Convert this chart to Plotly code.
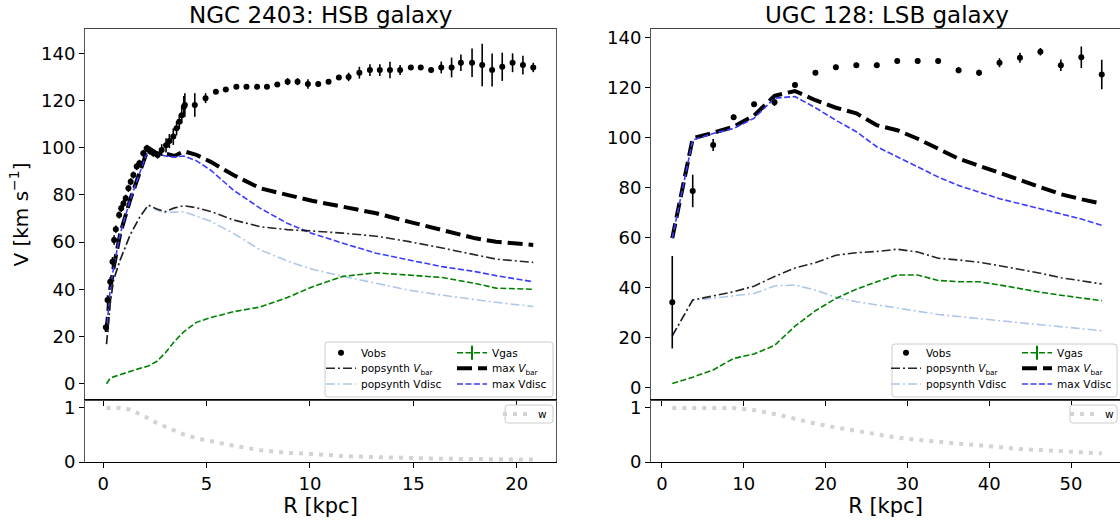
import plotly.graph_objects as go

# ---------------- NGC 2403 (HSB) ----------------
n_r_obs = [0.13, 0.21, 0.34, 0.45, 0.53, 0.61, 0.77, 0.87, 0.98, 1.09, 1.22, 1.33, 1.46, 1.62,
           1.75, 1.94, 2.10, 2.27, 2.43, 2.63, 2.83, 3.04, 3.20, 3.39, 3.55, 3.68, 3.80, 3.90,
           3.95, 4.43, 4.95, 5.45, 5.93, 6.44, 6.93, 7.44, 7.92, 8.42, 8.92, 9.40, 9.90, 10.40,
           10.90, 11.40, 11.87, 12.39, 12.90, 13.38, 13.87, 14.36, 14.88, 15.36, 15.86, 16.35,
           16.85, 17.30, 17.84, 18.33, 18.81, 19.30, 19.80, 20.30, 20.80]
n_v_obs = [23.9, 35.5, 43.2, 51.7, 60.9, 65.5, 71.5, 74.3, 76.4, 78.6, 82.8, 85.6, 88.4, 92.0,
           93.4, 97.6, 99.7, 98.5, 97.6, 96.9, 99.0, 101.0, 102.8, 104.7, 108.2, 111.0, 113.8, 117.4,
           118.1, 118.1, 121.0, 123.7, 124.7, 125.8, 125.8, 125.8, 125.8, 126.8, 128.0, 128.0, 127.0, 127.0,
           128.0, 129.8, 130.0, 131.8, 132.9, 132.9, 132.9, 132.9, 134.0, 134.0, 132.9, 134.0,
           134.0, 136.0, 136.0, 135.0, 132.9, 134.3, 136.0, 135.0, 134.0]
n_e_obs = [2.0, 2.0, 2.0, 2.0, 2.0, 1.5, 1.5, 1.5, 1.5, 1.5, 1.5, 1.5, 1.5, 1.5,
           1.5, 1.5, 1.5, 1.5, 1.5, 1.5, 2.5, 3.0, 3.0, 3.5, 3.0, 3.0, 3.5, 4.5,
           5.0, 5.0, 2.1, 0.8, 0.8, 0.8, 0.8, 0.8, 0.8, 1.0, 1.5, 1.5, 2.0, 1.2,
           1.0, 1.0, 1.8, 2.5, 2.5, 2.5, 3.5, 2.1, 1.0, 1.0, 1.0, 2.5,
           4.2, 3.5, 6.0, 9.0, 7.0, 6.0, 4.0, 4.0, 2.0]

n_r = [0.16, 0.34, 0.50, 0.82, 1.30, 1.78, 2.18, 2.60, 3.00, 3.45, 3.90, 4.50, 5.20, 6.30,
       7.60, 8.90, 10.10, 11.60, 13.20, 14.80, 16.40, 18.00, 19.00, 20.80]
n_vbar_pop = [16.8, 34.0, 43.9, 52.4, 63.0, 70.8, 75.7, 74.0, 72.9, 74.5, 75.4, 74.6, 73.0, 69.4,
              66.5, 65.3, 64.7, 63.8, 62.5, 60.2, 57.5, 54.6, 52.8, 51.4]
n_vdisc_pop = [16.8, 34.0, 43.9, 52.4, 63.0, 70.8, 75.5, 73.5, 72.5, 72.7, 72.9, 71.0, 68.8, 63.7,
               56.7, 52.0, 48.5, 45.5, 42.5, 39.6, 37.5, 35.6, 34.5, 32.7]
n_vgas = [0.0, 2.3, 2.9, 3.9, 5.2, 6.5, 7.5, 9.5, 13.0, 18.0, 22.0, 26.0, 28.0, 30.5,
          32.5, 36.5, 41.0, 45.5, 47.0, 46.0, 45.0, 42.5, 40.5, 40.0]
n_vbar_max = [22.0, 40.0, 49.0, 63.5, 77.8, 89.5, 100.0, 97.6, 97.5, 96.5, 98.5, 97.0, 94.0, 88.4,
              82.8, 80.0, 77.5, 75.0, 72.2, 68.6, 65.1, 61.6, 60.2, 58.8]
n_vdisc_max = [22.0, 40.0, 49.0, 63.5, 77.8, 89.5, 99.5, 97.5, 96.5, 96.0, 96.5, 94.5, 90.5, 82.0,
               74.3, 68.0, 63.7, 59.5, 55.3, 52.4, 49.6, 47.5, 45.8, 43.2]
n_w = [1.0, 1.0, 1.0, 1.0, 0.97, 0.89, 0.81, 0.72, 0.66, 0.58, 0.51, 0.44, 0.38, 0.30,
       0.22, 0.17, 0.15, 0.11, 0.09, 0.07, 0.06, 0.055, 0.05, 0.045]

# ---------------- UGC 128 (LSB) ----------------
u_r = [1.26, 3.76, 6.26, 8.76, 11.26, 13.76, 16.26, 18.76, 21.26, 23.76, 26.26, 28.76, 31.26,
       33.76, 36.26, 38.76, 41.26, 43.76, 46.26, 48.76, 51.26, 53.76]
u_v_obs = [34.2, 78.7, 97.1, 108.2, 113.4, 114.2, 121.1, 126.0, 128.2, 129.0, 129.0, 130.7, 130.7,
           130.7, 127.0, 126.0, 130.0, 132.0, 134.4, 129.0, 132.2, 125.3]
u_e_obs = [18.5, 6.5, 2.4, 1.0, 1.0, 1.5, 1.0, 1.0, 1.0, 1.0, 1.0, 1.0, 1.0,
           1.0, 1.2, 1.2, 1.8, 2.0, 1.5, 2.3, 4.3, 5.9]
u_vbar_pop = [20.7, 35.1, 36.7, 38.4, 40.6, 44.5, 47.9, 50.0, 53.0, 54.0, 54.5, 55.4, 54.3,
              51.8, 51.1, 50.2, 48.8, 47.4, 45.8, 44.0, 42.6, 41.5]
u_vdisc_pop = [20.7, 35.1, 35.8, 36.7, 37.7, 40.7, 41.1, 39.0, 36.2, 34.4, 33.2, 32.1, 30.6,
               29.3, 28.4, 27.6, 26.8, 26.0, 25.2, 24.3, 23.5, 22.8]
u_vgas = [1.7, 4.2, 7.1, 11.7, 13.5, 16.9, 24.6, 30.8, 35.7, 39.4, 42.4, 45.1, 45.1,
          42.9, 42.4, 42.4, 41.1, 39.6, 38.2, 37.0, 35.8, 34.8]
u_vbar_max = [59.8, 99.8, 102.0, 104.4, 108.9, 116.8, 118.7, 115.0, 112.0, 109.8, 105.0, 103.0, 99.6,
              95.5, 91.6, 88.8, 86.0, 83.4, 80.2, 77.4, 75.4, 73.6]
u_vdisc_max = [59.8, 99.1, 101.7, 103.7, 107.8, 115.8, 116.5, 112.0, 107.0, 102.4, 96.4, 92.4, 88.3,
               84.3, 80.9, 78.2, 75.6, 73.6, 71.6, 69.6, 67.5, 65.0]
u_w = [1.0, 1.0, 1.0, 1.0, 0.96, 0.89, 0.80, 0.71, 0.64, 0.58, 0.51, 0.45, 0.41,
       0.37, 0.34, 0.31, 0.27, 0.24, 0.22, 0.20, 0.18, 0.16]

titles = ["NGC 2403: HSB galaxy", "UGC 128: LSB galaxy"]

W, H = 1120, 522
FONT = "DejaVu Sans"
C_POPDISC = "#aec7e8"
C_MAXDISC = "#3b3bff"
C_GAS = "#008000"
C_W = "#d3d3d3"
DASHDOT = "9px,3px,2px,3px"
DASH = "6px,2.5px"
THICKDASH = "15px,6px"


def px(x):
    return x / W


def py(y):
    return 1 - y / H


fig = go.Figure()

# legend slots: (text x, row center y) in pixels; one single-entry legend each
ROWS = [352.7, 368.3, 384.0]
panels = [
    dict(r_obs=n_r_obs, v_obs=n_v_obs, e_obs=n_e_obs, r=n_r, vbar_pop=n_vbar_pop,
         vdisc_pop=n_vdisc_pop, vgas=n_vgas, vbar_max=n_vbar_max, vdisc_max=n_vdisc_max,
         w=n_w, xa="x", ya="y", xb="x2", yb="y2", col1=361, col2=492, wx=538, lg0=1),
    dict(r_obs=u_r, v_obs=u_v_obs, e_obs=u_e_obs, r=u_r, vbar_pop=u_vbar_pop,
         vdisc_pop=u_vdisc_pop, vgas=u_vgas, vbar_max=u_vbar_max, vdisc_max=u_vdisc_max,
         w=u_w, xa="x3", ya="y3", xb="x4", yb="y4", col1=926, col2=1057, wx=1105, lg0=8),
]

legend_layout = {}
lg_common = dict(bgcolor="rgba(0,0,0,0)", borderwidth=0,
                 font=dict(family=FONT, size=10.5, color="black"),
                 xanchor="left", yanchor="top", orientation="v", itemclick=False,
                 itemdoubleclick=False)


def lg(idx, tx, cy):
    key = "legend" if idx == 1 else f"legend{idx}"
    legend_layout[key] = dict(**lg_common, x=px(tx - 40), y=py(cy - 14.5))
    return key


for p in panels:
    k = p["lg0"]
    L_obs = lg(k, p["col1"], ROWS[0])
    L_pbar = lg(k + 1, p["col1"], ROWS[1])
    L_pdisc = lg(k + 2, p["col1"], ROWS[2])
    L_gas = lg(k + 3, p["col2"], ROWS[0])
    L_mbar = lg(k + 4, p["col2"], ROWS[1])
    L_mdisc = lg(k + 5, p["col2"], ROWS[2])
    L_w = lg(k + 6, p["wx"], 414)

    fig.add_trace(go.Scatter(x=p["r"], y=p["vbar_max"], mode="lines", name="max <i>V</i><sub>bar</sub>",
                             line=dict(color="black", width=4, dash=THICKDASH),
                             xaxis=p["xa"], yaxis=p["ya"], legend=L_mbar))
    fig.add_trace(go.Scatter(x=p["r"], y=p["vdisc_max"], mode="lines", name="max Vdisc",
                             line=dict(color=C_MAXDISC, width=1.6, dash=DASH),
                             xaxis=p["xa"], yaxis=p["ya"], legend=L_mdisc))
    fig.add_trace(go.Scatter(x=p["r"], y=p["vdisc_pop"], mode="lines", name="popsynth Vdisc",
                             line=dict(color=C_POPDISC, width=1.6, dash=DASHDOT),
                             xaxis=p["xa"], yaxis=p["ya"], legend=L_pdisc))
    fig.add_trace(go.Scatter(x=p["r"], y=p["vbar_pop"], mode="lines", name="popsynth <i>V</i><sub>bar</sub>",
                             line=dict(color="black", width=1.6, dash=DASHDOT), opacity=0.85,
                             xaxis=p["xa"], yaxis=p["ya"], legend=L_pbar))
    fig.add_trace(go.Scatter(x=p["r"], y=p["vgas"], mode="lines", name="Vgas", showlegend=False,
                             line=dict(color=C_GAS, width=1.6, dash=DASH),
                             xaxis=p["xa"], yaxis=p["ya"]))
    fig.add_trace(go.Scatter(x=[None], y=[None], mode="lines+markers", name="Vgas",
                             line=dict(color=C_GAS, width=1.6, dash=DASH),
                             marker=dict(symbol="line-ns-open", size=10, color=C_GAS,
                                         line=dict(width=2, color=C_GAS)),
                             xaxis=p["xa"], yaxis=p["ya"], legend=L_gas))
    fig.add_trace(go.Scatter(x=p["r_obs"], y=p["v_obs"], mode="markers", name="Vobs",
                             marker=dict(color="black", size=6),
                             error_y=dict(type="data", array=p["e_obs"], thickness=1.6, width=0,
                                          color="black"),
                             xaxis=p["xa"], yaxis=p["ya"], legend=L_obs))
    fig.add_trace(go.Scatter(x=p["r"], y=p["w"], mode="lines", name="w",
                             line=dict(color=C_W, width=4, dash="4px,6px"),
                             xaxis=p["xb"], yaxis=p["yb"], legend=L_w))

fig.update_layout(**legend_layout)

# axes
ax_common = dict(showgrid=False, zeroline=False, showline=True, ticks="outside", ticklen=5,
                 tickwidth=1, tickcolor="black", tickfont=dict(family=FONT, size=18, color="black"))

main_dom = [py(400), py(29)]
bot_dom = [py(462), py(400)]
left_dom = [px(85), px(556)]
right_dom = [px(651), 1.0]

fig.update_layout(
    xaxis=dict(**ax_common, domain=left_dom, anchor="y", range=[-0.88, 21.9], dtick=5,
               showticklabels=False, mirror=True, linecolor="#444"),
    yaxis=dict(**ax_common, domain=main_dom, anchor="x", range=[-6.9, 150.3], dtick=20,
               mirror=True, linecolor="#555",
               title=dict(text="V [km s<sup>\u22121</sup>]", font=dict(family=FONT, size=20, color="black"),
                          standoff=7)),
    xaxis2=dict(**ax_common, domain=left_dom, anchor="y2", range=[-0.88, 21.9], dtick=5,
                mirror=True, linecolor="black",
                title=dict(text="R [kpc]", font=dict(family=FONT, size=21, color="black"), standoff=1)),
    yaxis2=dict(**ax_common, domain=bot_dom, anchor="x2", range=[0, 1.148], tickvals=[0, 1],
                mirror=True, linecolor="#555"),
    xaxis3=dict(**ax_common, domain=right_dom, anchor="y3", range=[-1.34, 55.99], dtick=10,
                showticklabels=False, mirror=True, linecolor="#444"),
    yaxis3=dict(**ax_common, domain=main_dom, anchor="x3", range=[-4.92, 143.5], dtick=20,
                mirror=False, linecolor="#555"),
    xaxis4=dict(**ax_common, domain=right_dom, anchor="y4", range=[-1.34, 55.99], dtick=10,
                mirror=True, linecolor="black",
                title=dict(text="R [kpc]", font=dict(family=FONT, size=21, color="black"), standoff=1)),
    yaxis4=dict(**ax_common, domain=bot_dom, anchor="x4", range=[0, 1.148], tickvals=[0, 1],
                mirror=False, linecolor="#555"),
)


def rrect(x0, y0, x1, y1, r=3):
    rx, ry = r / W, r / H
    X0, X1, Y0, Y1 = px(x0), px(x1), py(y0), py(y1)
    return (f"M{X0 + rx},{Y0} L{X1 - rx},{Y0} Q{X1},{Y0} {X1},{Y0 - ry} "
            f"L{X1},{Y1 + ry} Q{X1},{Y1} {X1 - rx},{Y1} L{X0 + rx},{Y1} Q{X0},{Y1} {X0},{Y1 + ry} "
            f"L{X0},{Y0 - ry} Q{X0},{Y0} {X0 + rx},{Y0} Z")


boxes = [(325, 342, 553, 397), (892, 344, 1117, 397), (505, 405, 553, 423), (1070, 405, 1117, 423)]
shapes = []
for b in boxes:
    shapes.append(dict(type="path", path=rrect(*b), xref="paper", yref="paper",
                       line=dict(color="#cccccc", width=1), fillcolor="rgba(255,255,255,0.8)",
                       layer="above"))
fig.update_layout(shapes=shapes)

# titles
annots = []
for t, cx in zip(titles, [(85 + 556) / 2, (651 + 1122) / 2]):
    annots.append(dict(text=t, x=px(cx), y=py(15), xref="paper", yref="paper", showarrow=False,
                       xanchor="center", yanchor="middle", font=dict(family=FONT, size=23, color="black")))
fig.update_layout(annotations=annots)

fig.update_layout(width=W, height=H, margin=dict(l=0, r=0, t=0, b=0, autoexpand=False),
                  plot_bgcolor="white", paper_bgcolor="white", font=dict(family=FONT, color="black"))

fig.write_html("out.html", config={"displayModeBar": False},
               post_script="document.body.style.margin='0px';document.body.style.overflow='hidden';")
